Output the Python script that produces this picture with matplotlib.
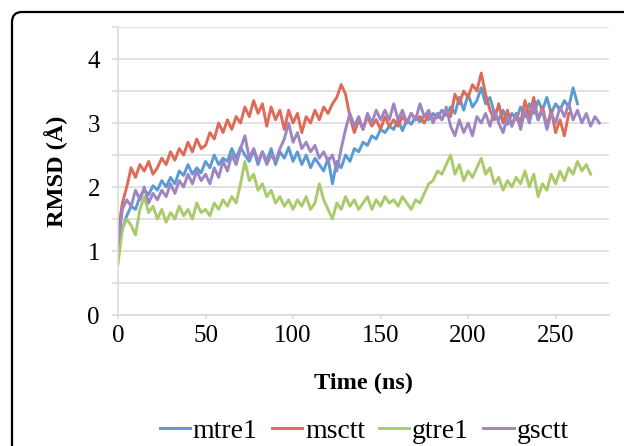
import matplotlib
matplotlib.use("Agg")
import matplotlib.pyplot as plt
import numpy as np
from matplotlib.patches import FancyBboxPatch
from matplotlib.transforms import IdentityTransform

# RMSD traces, one value every 2.5 ns
step_ns = 2.5

mtre1 = [1.00, 1.35, 1.55, 1.70, 1.65, 1.85, 1.95, 1.88, 2.02, 1.95,
         2.10, 2.00, 2.15, 2.05, 2.25, 2.18, 2.35, 2.20, 2.30, 2.22,
         2.40, 2.30, 2.50, 2.35, 2.45, 2.40, 2.60, 2.45, 2.62, 2.50,
         2.40, 2.58, 2.35, 2.55, 2.40, 2.60, 2.35, 2.55, 2.45, 2.62,
         2.40, 2.55, 2.35, 2.50, 2.30, 2.45, 2.35, 2.25, 2.45, 2.05,
         2.40, 2.30, 2.50, 2.40, 2.60, 2.55, 2.70, 2.65, 2.80, 2.75,
         2.90, 2.85, 2.95, 2.90, 3.05, 2.88, 3.05, 2.98, 3.10, 3.02,
         3.12, 3.05, 3.15, 3.08, 3.20, 3.12, 3.25, 3.15, 3.40, 3.20,
         3.45, 3.25, 3.35, 3.55, 3.30, 3.40, 3.15, 3.05, 3.20, 2.98,
         3.15, 3.05, 3.25, 3.10, 3.30, 3.15, 3.35, 3.20, 3.40, 3.15,
         3.30, 3.20, 3.35, 3.25, 3.55, 3.30]

msctt = [1.30, 1.75, 2.00, 2.30, 2.15, 2.35, 2.25, 2.40, 2.20, 2.30,
         2.45, 2.35, 2.55, 2.42, 2.60, 2.50, 2.70, 2.55, 2.75, 2.60,
         2.65, 2.85, 2.75, 3.00, 2.85, 3.05, 2.90, 3.10, 3.00, 3.25,
         3.10, 3.35, 3.15, 3.30, 2.95, 3.25, 3.05, 3.20, 2.90, 3.20,
         3.00, 3.15, 2.85, 3.10, 3.00, 3.20, 3.05, 3.25, 3.15, 3.30,
         3.40, 3.60, 3.45, 3.10, 2.85, 3.05, 2.90, 3.10, 2.95, 3.05,
         2.90, 3.10, 2.95, 3.05, 2.95, 3.10, 3.00, 3.15, 3.05, 3.10,
         3.00, 3.15, 3.05, 3.15, 3.05, 3.20, 3.10, 3.45, 3.30, 3.50,
         3.40, 3.60, 3.50, 3.78, 3.45, 3.20, 3.05, 3.30, 3.00, 3.20,
         2.95, 3.15, 3.00, 3.35, 3.10, 3.40, 3.05, 3.25, 2.95, 3.20,
         2.85, 3.05, 2.80, 3.15]

gtre1 = [0.80, 1.35, 1.50, 1.40, 1.25, 1.65, 1.85, 1.60, 1.70, 1.50,
         1.65, 1.45, 1.60, 1.50, 1.70, 1.55, 1.65, 1.50, 1.75, 1.60,
         1.65, 1.55, 1.75, 1.65, 1.80, 1.70, 1.85, 1.75, 2.05, 2.40,
         2.10, 2.20, 1.95, 2.05, 1.85, 1.95, 1.75, 1.85, 1.70, 1.80,
         1.65, 1.80, 1.70, 1.85, 1.65, 1.75, 2.05, 1.80, 1.65, 1.50,
         1.75, 1.65, 1.85, 1.70, 1.80, 1.65, 1.75, 1.85, 1.65, 1.80,
         1.70, 1.85, 1.75, 1.80, 1.70, 1.85, 1.75, 1.65, 1.80, 1.75,
         1.90, 2.05, 2.10, 2.25, 2.20, 2.35, 2.50, 2.20, 2.35, 2.10,
         2.25, 2.15, 2.30, 2.45, 2.20, 2.30, 2.05, 2.15, 1.95, 2.10,
         2.00, 2.15, 2.05, 2.25, 2.00, 2.20, 1.85, 2.05, 1.95, 2.20,
         2.05, 2.25, 2.10, 2.30, 2.20, 2.40, 2.25, 2.35, 2.20]

gsctt = [1.10, 1.65, 1.80, 1.70, 1.95, 1.80, 2.00, 1.75, 1.90, 1.80,
         1.95, 1.85, 2.05, 1.90, 2.10, 2.00, 2.20, 2.05, 2.25, 2.10,
         2.20, 2.05, 2.30, 2.15, 2.40, 2.25, 2.50, 2.35, 2.60, 2.80,
         2.45, 2.60, 2.40, 2.55, 2.35, 2.50, 2.40, 2.60, 2.75, 3.00,
         2.70, 2.85, 2.60, 2.70, 2.55, 2.65, 2.45, 2.55, 2.40, 2.50,
         2.25, 2.60, 2.90, 3.15, 2.95, 3.10, 2.90, 3.15, 3.00, 3.20,
         3.05, 3.20, 3.05, 3.30, 3.05, 3.20, 3.00, 3.15, 3.05, 3.30,
         3.10, 3.20, 3.00, 3.15, 3.05, 3.25, 2.95, 2.80, 3.05, 2.85,
         3.00, 2.80, 3.10, 3.00, 3.15, 2.95, 3.20, 3.00, 2.85, 3.10,
         2.95, 3.15, 2.90, 3.20, 3.00, 3.30, 3.05, 3.20, 2.90, 3.15,
         3.00, 3.25, 3.10, 3.30, 3.05, 3.20, 3.00, 3.15, 2.95, 3.10,
         3.00]

series = ["mtre1", "msctt", "gtre1", "gsctt"]
colors = ["#5B9BD5", "#E06A58", "#A9CB6C", "#9E86C2"]

xticks = [0, 50, 100, 150, 200, 250]
yticks = [0, 1, 2, 3, 4]

plt.rcParams['font.family'] = ['Liberation Serif', 'DejaVu Serif']

fig = plt.figure(figsize=(6.24, 4.46), dpi=100)
ax = fig.add_axes([118 / 624, 1 - 315 / 446, 491 / 624, 288 / 446])

for name, vals, c in zip(series, [mtre1, msctt, gtre1, gsctt], colors):
    t = np.arange(len(vals)) * step_ns
    ax.plot(t, vals, color=c, lw=2.1, label=name)

ax.set_xlim(0, 280.5)
ax.set_ylim(0, 4.5)
ax.set_xticks(xticks)
ax.set_yticks(yticks)
ax.set_yticks(np.arange(0.5, 4.6, 1.0), minor=True)

grid_c = "#D9D9D9"
ax.grid(True, axis="y", which="both", color=grid_c, lw=1.1)
ax.set_axisbelow(True)
for s in ["top", "right"]:
    ax.spines[s].set_visible(False)
ax.spines["left"].set_color(grid_c)
ax.spines["bottom"].set_color(grid_c)
ax.spines["left"].set_linewidth(1.1)
ax.spines["bottom"].set_linewidth(1.1)

ax.tick_params(axis="y", which="both", length=4, color=grid_c, width=1.1,
               labelsize=18, pad=9)
ax.tick_params(axis="x", length=3, color=grid_c, width=1.1, labelsize=18, pad=4)

ax.set_ylabel("RMSD (Å)", fontsize=17.5, fontweight="bold", labelpad=14)
ax.set_xlabel("Time (ns)", fontsize=17.5, fontweight="bold", labelpad=19)

fig.legend(loc="center", bbox_to_anchor=(364 / 624, 1 - 431 / 446), ncol=4,
           frameon=False, fontsize=20, handlelength=1.1, handletextpad=0.1,
           columnspacing=0.5, borderaxespad=0)

# rounded outer frame, runs past the right and bottom edges
frame = FancyBboxPatch((12, -30), 660, 464,
                       boxstyle="round,pad=0,rounding_size=10",
                       transform=IdentityTransform(), fill=False,
                       ec="black", lw=1.6)
fig.add_artist(frame)

fig.savefig("out.png", dpi=100)
